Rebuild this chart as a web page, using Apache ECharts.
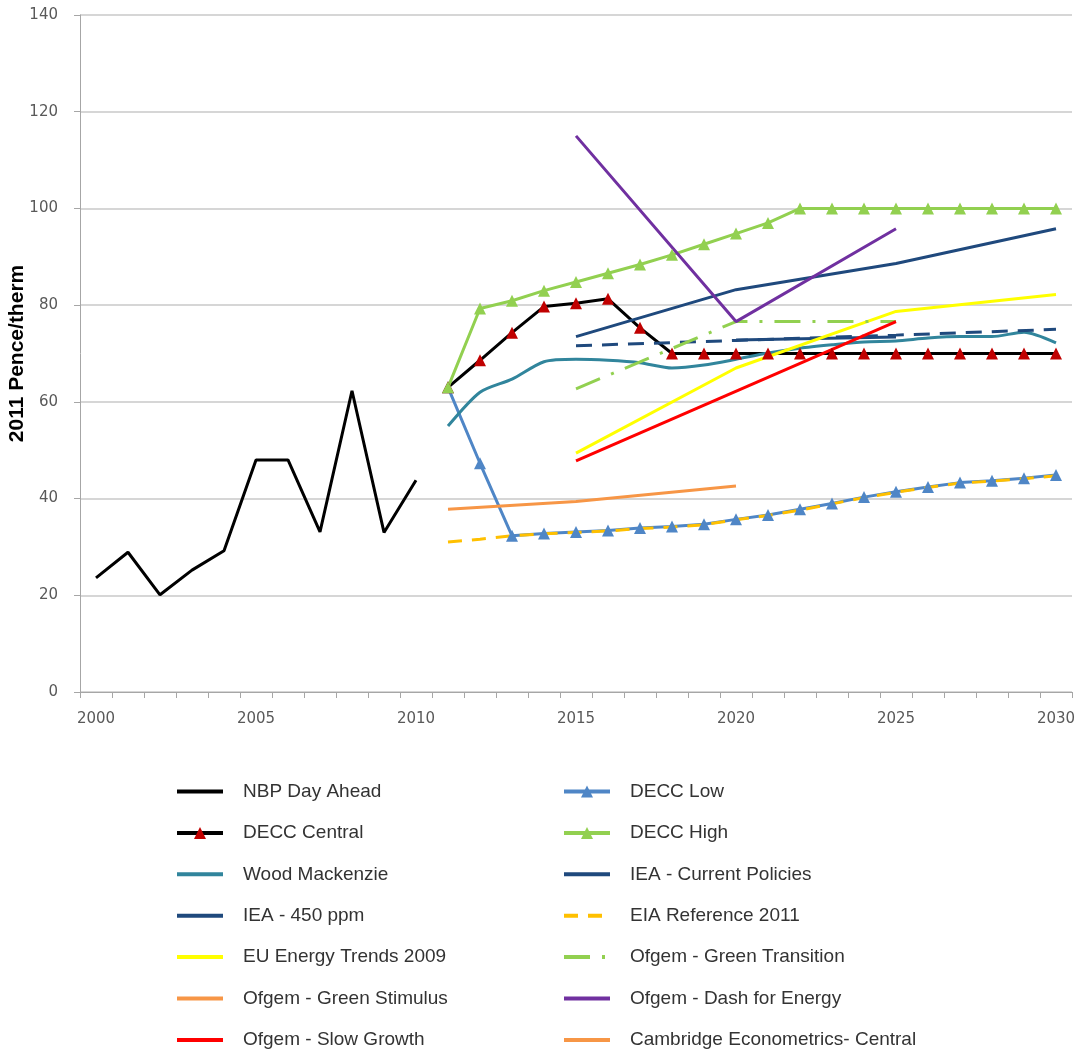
<!DOCTYPE html>
<html>
<head>
<meta charset="utf-8">
<script src="https://cdn.jsdelivr.net/npm/echarts@6/dist/echarts.min.js"></script>
<style>html,body{margin:0;padding:0;background:#fff;}#c{width:1081px;height:1055px;}</style>
</head>
<body>
<div id="c"></div>
<script>
var years = ['2000','2001','2002','2003','2004','2005','2006','2007','2008','2009','2010',
  '2011','2012','2013','2014','2015','2016','2017','2018','2019','2020',
  '2021','2022','2023','2024','2025','2026','2027','2028','2029','2030'];
var yTicks = [0, 20, 40, 60, 80, 100, 120, 140];
var _ = null;
// 2000..2010 | 2011..2030
var nbpDayAhead = [23.6, 28.9, 20.1, 25.2, 29.2, 48, 48, 33.1, 62.3, 33, 43.8,
  _,_,_,_,_,_,_,_,_,_,_,_,_,_,_,_,_,_,_,_];
var deccLow = [_,_,_,_,_,_,_,_,_,_,_,
  63, 47.3, 32.3, 32.8, 33.1, 33.4, 33.9, 34.2, 34.7, 35.7,
  36.6, 37.8, 39, 40.3, 41.4, 42.4, 43.3, 43.7, 44.2, 44.9];
var deccCentral = [_,_,_,_,_,_,_,_,_,_,_,
  63, 68.6, 74.3, 79.7, 80.4, 81.3, 75.3, 70, 70, 70,
  70, 70, 70, 70, 70, 70, 70, 70, 70, 70];
var deccHigh = [_,_,_,_,_,_,_,_,_,_,_,
  63, 79.3, 80.9, 83, 84.8, 86.6, 88.4, 90.4, 92.6, 94.8,
  97, 100, 100, 100, 100, 100, 100, 100, 100, 100];
var woodMackenzie = [_,_,_,_,_,_,_,_,_,_,_,
  55, 62, 64.7, 68.3, 68.8, 68.6, 68.1, 67, 67.6, 68.8,
  70.1, 71.1, 71.8, 72.4, 72.6, 73.2, 73.5, 73.5, 74.4, 72.2];
var ieaCurrent = [_,_,_,_,_,_,_,_,_,_,_,
  _,_,_,_, 73.5, _,_,_,_, 83.2,
  _,_,_,_, 88.6, _,_,_,_, 95.8];
var iea450Solid = [_,_,_,_,_,_,_,_,_,_,_,
  _,_,_,_,_,_,_,_,_, 72.8,
  _,_,_,_, 73.4, _,_,_,_,_];
var iea450Dashed = [_,_,_,_,_,_,_,_,_,_,_,
  _,_,_,_, 71.6, _,_,_,_, 72.7,
  _,_,_,_, 73.8, _,_,_,_, 75];
var eiaReference = [_,_,_,_,_,_,_,_,_,_,_,
  31, 31.6, 32.3, 32.7, 33, 33.3, 33.8, 34.1, 34.6, 35.6,
  36.5, 37.6, 38.9, 40.2, 41.3, 42.3, 43.2, 43.6, 44.1, 44.7];
var euEnergyTrends = [_,_,_,_,_,_,_,_,_,_,_,
  _,_,_,_, 49.4, _,_,_,_, 67,
  _,_,_,_, 78.7, _,_,_,_, 82.2];
var greenTransition = [_,_,_,_,_,_,_,_,_,_,_,
  _,_,_,_, 62.7, _,_,_,_, 76.6,
  _,_,_,_, 76.6, _,_,_,_,_];
var greenStimulus = [];
var dashForEnergy = [_,_,_,_,_,_,_,_,_,_,_,
  _,_,_,_, 115, _,_,_,_, 76.6,
  _,_,_,_, 95.8, _,_,_,_,_];
var slowGrowth = [_,_,_,_,_,_,_,_,_,_,_,
  _,_,_,_, 47.8, _,_,_,_,_,
  _,_,_,_, 76.6, _,_,_,_,_];
var cambridge = [_,_,_,_,_,_,_,_,_,_,_,
  37.8, _,_,_, 39.4, _,_,_,_, 42.6,
  _,_,_,_,_,_,_,_,_,_];

function line(name, data, color, opts) {
  opts = opts || {};
  return {
    name: name, type: 'line', data: data,
    connectNulls: true,
    smooth: opts.smooth || false,
    showSymbol: !!opts.symbol,
    symbol: opts.symbol || 'none',
    symbolSize: opts.symbolSize || 12,
    itemStyle: { color: opts.symbolColor || color },
    lineStyle: { color: color, width: opts.width || 3, type: opts.type || 'solid' },
    emphasis: { disabled: true },
    animation: false
  };
}

var series = [
  line('NBP Day Ahead', nbpDayAhead, '#000000'),
  line('DECC Low', deccLow, '#4F86C6', { symbol: 'triangle' }),
  line('DECC Central', deccCentral, '#000000', { symbol: 'triangle', symbolColor: '#C00000' }),
  line('DECC High', deccHigh, '#92D050', { symbol: 'triangle' }),
  line('Wood Mackenzie', woodMackenzie, '#31859C', { smooth: 0.25 }),
  line('IEA - Current Policies', ieaCurrent, '#1F497D'),
  line('IEA - 450 ppm', iea450Solid, '#1F497D'),
  line('IEA - 450 ppm', iea450Dashed, '#1F497D', { type: [16, 10] }),
  line('EIA Reference 2011', eiaReference, '#FFC000', { type: [14, 10] }),
  line('EU Energy Trends 2009', euEnergyTrends, '#FFFF00'),
  line('Ofgem - Green Transition', greenTransition, '#92D050', { type: [26, 12, 3, 12] }),
  line('Ofgem - Green Stimulus', greenStimulus, '#F79646'),
  line('Ofgem - Dash for Energy', dashForEnergy, '#7030A0'),
  line('Ofgem - Slow Growth', slowGrowth, '#FF0000'),
  line('Cambridge Econometrics- Central', cambridge, '#F79646')
];

var withSymbol = { 'DECC Low': 1, 'DECC Central': 1, 'DECC High': 1 };
function legendItems(names) {
  return names.map(function (n) {
    return withSymbol[n] ? { name: n } : { name: n, itemStyle: { opacity: 0 } };
  });
}

var legendCommon = {
  orient: 'vertical', top: 782, padding: 0, itemWidth: 46, itemHeight: 15, itemGap: 22.4,
  selectedMode: false,
  lineStyle: { width: 4 },
  textStyle: { fontFamily: 'Liberation Sans', fontSize: 19, color: '#333333', padding: [0, 0, 0, 15] }
};

var chart = echarts.init(document.getElementById('c'), null, { renderer: 'canvas' });
chart.setOption({
  backgroundColor: '#ffffff',
  animation: false,
  grid: { left: 80, right: 9, top: 15, bottom: 363, containLabel: false, outerBoundsMode: 'none' },
  legend: [
    Object.assign({}, legendCommon, { left: 175,
      data: legendItems(['NBP Day Ahead', 'DECC Central', 'Wood Mackenzie', 'IEA - 450 ppm', 'EU Energy Trends 2009', 'Ofgem - Green Stimulus', 'Ofgem - Slow Growth']) }),
    Object.assign({}, legendCommon, { left: 562,
      data: legendItems(['DECC Low', 'DECC High', 'IEA - Current Policies', 'EIA Reference 2011', 'Ofgem - Green Transition', 'Ofgem - Dash for Energy', 'Cambridge Econometrics- Central']) })
  ],
  xAxis: {
    type: 'category', data: years, boundaryGap: true,
    axisLine: { lineStyle: { color: '#A6A6A6', width: 1 } },
    axisTick: { show: true, interval: 0, length: 6, lineStyle: { color: '#A6A6A6' } },
    axisLabel: { interval: 4, margin: 20, color: '#595959', fontFamily: 'DejaVu Sans', fontSize: 15 },
    splitLine: { show: false }
  },
  yAxis: {
    type: 'value', min: yTicks[0], max: yTicks[yTicks.length - 1], interval: 20,
    name: '2011 Pence/therm', nameLocation: 'middle', nameGap: 52, nameRotate: 90,
    nameMoveOverlap: false,
    nameTextStyle: { fontFamily: 'Liberation Sans', fontWeight: 'bold', fontSize: 21, color: '#000000' },
    axisLine: { show: true, lineStyle: { color: '#A6A6A6', width: 1 } },
    axisTick: { show: true, length: 6, lineStyle: { color: '#A6A6A6' } },
    axisLabel: { margin: 22, color: '#595959', fontFamily: 'DejaVu Sans', fontSize: 15 },
    splitLine: { lineStyle: { color: '#C8C8C8', width: 1.5 } }
  },
  series: series
});
</script>
</body>
</html>
